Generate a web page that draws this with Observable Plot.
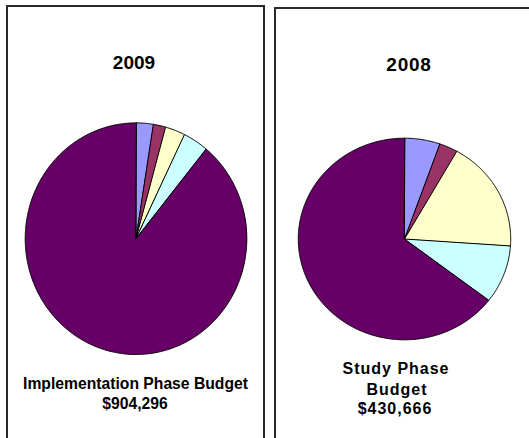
<!DOCTYPE html>
<html>
<head>
<meta charset="utf-8">
<script src="https://cdn.jsdelivr.net/npm/d3@7"></script>
<script src="https://cdn.jsdelivr.net/npm/@observablehq/plot@0.6"></script>
<style>
  html, body { margin: 0; padding: 0; background: #fff; overflow: hidden; }
  #stage { position: relative; width: 529px; height: 438px; overflow: hidden; font-family: "Liberation Sans", Arial, sans-serif; font-weight: bold; color: #000; }
  .panel { position: absolute; box-sizing: border-box; border: 2px solid #2a2a2a; height: 520px; background: #fff; }
  .layer { position: absolute; left: 0; top: 0; }
  .txt { position: absolute; white-space: nowrap; transform: translateX(-50%); line-height: 1; }
</style>
</head>
<body>
<div id="stage">
  <div class="panel" style="left:6px; top:5px; width:259px;"></div>
  <div class="panel" style="left:274px; top:7px; width:300px;"></div>
  <div id="pie2009" class="layer"></div>
  <div id="pie2008" class="layer"></div>
  <div class="txt" style="left:134px; top:53px; font-size:19px;">2009</div>
  <div class="txt" style="left:409px; top:55px; font-size:19px; letter-spacing:0.8px;">2008</div>
  <div class="txt" style="left:135.5px; top:376px; font-size:15.7px;">Implementation Phase Budget</div>
  <div class="txt" style="left:135px; top:396px; font-size:15.7px;">$904,296</div>
  <div class="txt" style="left:396px; top:361px; font-size:16px; letter-spacing:1px;">Study Phase</div>
  <div class="txt" style="left:397px; top:382px; font-size:16px; letter-spacing:1px;">Budget</div>
  <div class="txt" style="left:395px; top:401px; font-size:16px; letter-spacing:1px;">$430,666</div>
</div>
<script>
// Slice categories (clockwise from 12 o'clock) and their colours
const categories = ["Segment 1", "Segment 2", "Segment 3", "Segment 4", "Segment 5"];
const sliceColors = ["#9999FF", "#993366", "#FFFFCC", "#CCFFFF", "#660066"];

// Estimated percentage shares
const shares2009 = [2.5, 1.8, 2.9, 3.7, 89.1];
const shares2008 = [5.4, 2.8, 17.9, 9.3, 64.6];

function slicePoints(shares) {
  const arcs = d3.pie().sort(null).value(d => d)(shares);
  const pts = [];
  arcs.forEach((a, i) => {
    const cat = categories[i];
    pts.push({cat, x: 0, y: 0});
    const n = Math.max(2, Math.ceil((a.endAngle - a.startAngle) / (Math.PI / 360)));
    for (let k = 0; k <= n; k++) {
      const t = a.startAngle + (a.endAngle - a.startAngle) * k / n;
      pts.push({cat, x: Math.sin(t), y: Math.cos(t)});
    }
  });
  return pts;
}

function pie(shares, cx, cy, rx, ry) {
  return Plot.plot({
    width: 529,
    height: 438,
    margin: 0,
    style: {background: "transparent", overflow: "visible"},
    x: {domain: [-1, 1], range: [cx - rx, cx + rx], axis: null},
    y: {domain: [-1, 1], range: [cy + ry, cy - ry], axis: null},
    color: {domain: categories, range: sliceColors},
    marks: [
      Plot.line(slicePoints(shares), {
        x: "x", y: "y", z: "cat", fill: "cat",
        stroke: "#000", strokeWidth: 1, strokeLinejoin: "round",
        curve: "linear-closed"
      })
    ]
  });
}

document.getElementById("pie2009").appendChild(pie(shares2009, 135.5, 238.2, 110.8, 115.8));
document.getElementById("pie2008").appendChild(pie(shares2008, 404, 238.5, 106.2, 100.8));
</script>
</body>
</html>
